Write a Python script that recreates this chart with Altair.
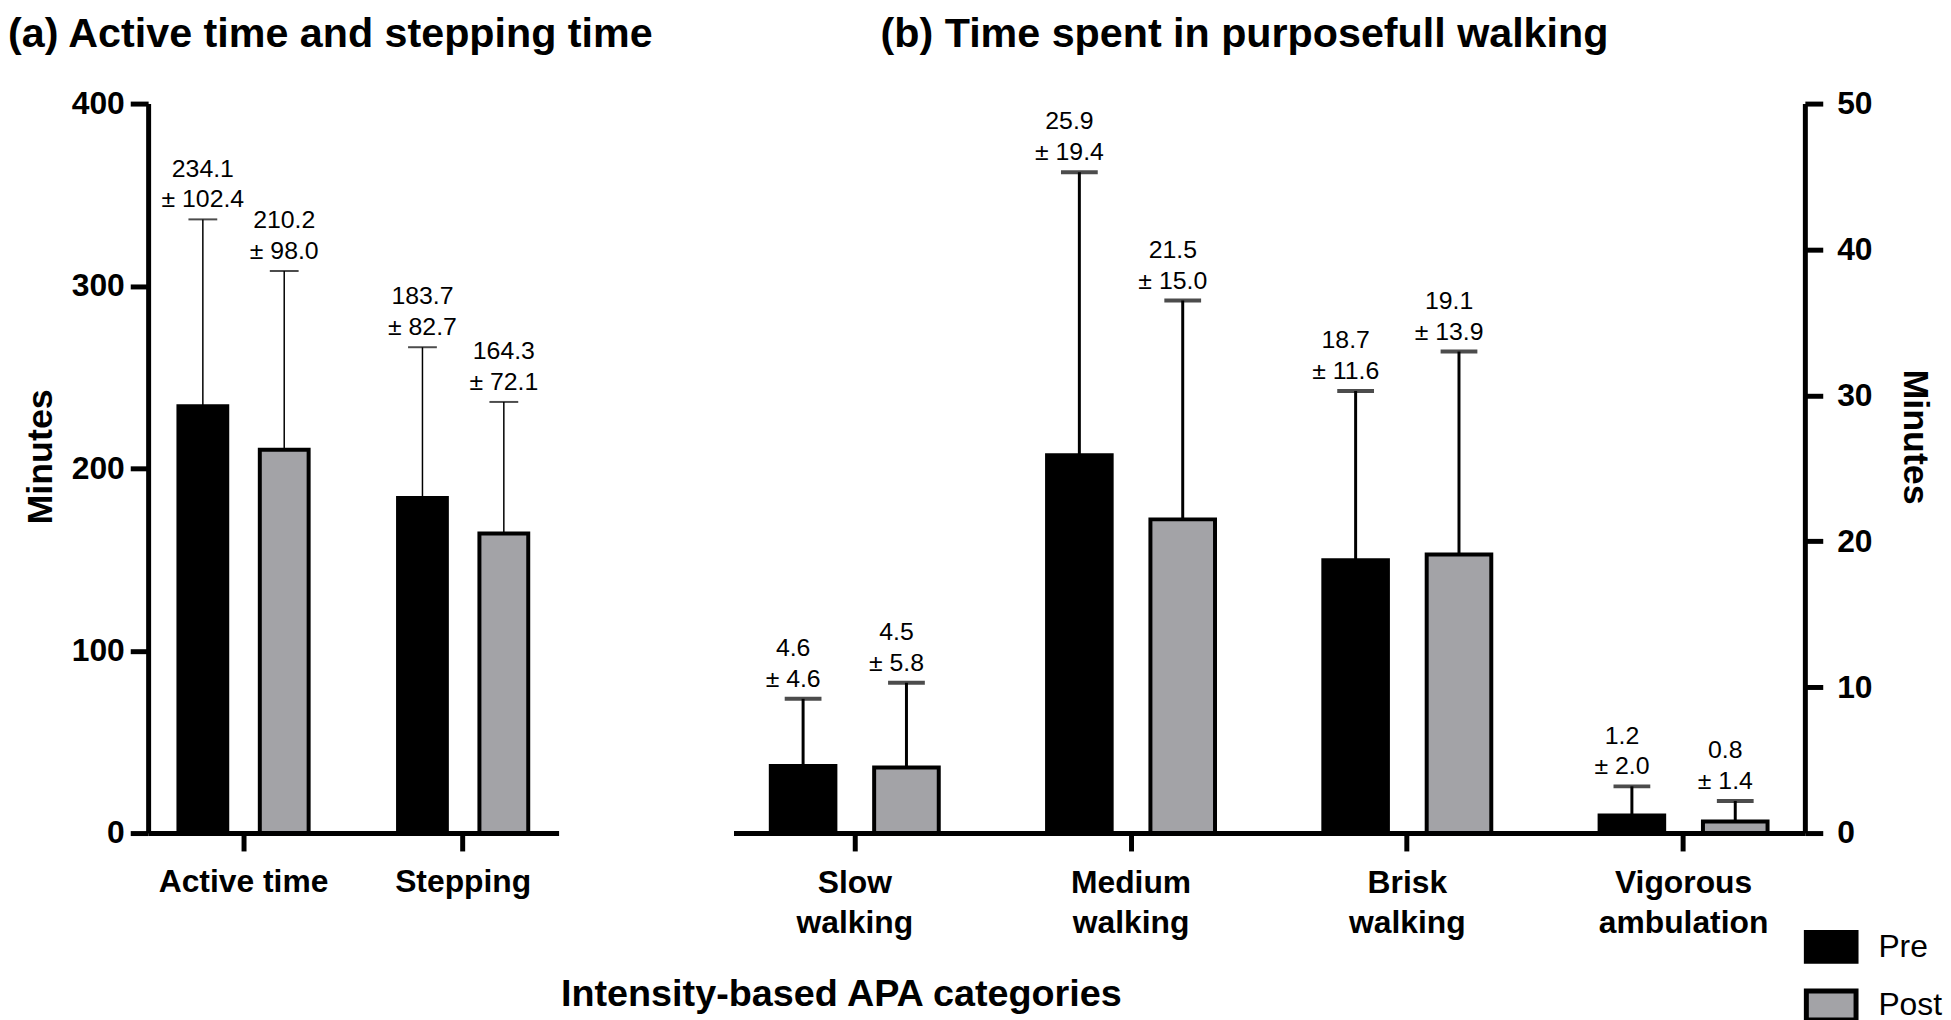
import altair as alt
import pandas as pd

# ---------------- data ----------------
cats_a = ["Active time", "Stepping"]
pre_a = [234.1, 183.7]
pre_sd_a = [102.4, 82.7]
post_a = [210.2, 164.3]
post_sd_a = [98.0, 72.1]

cats_b = ["Slow walking", "Medium walking", "Brisk walking", "Vigorous ambulation"]
pre_b = [4.6, 25.9, 18.7, 1.2]
pre_sd_b = [4.6, 19.4, 11.6, 2.0]
post_b = [4.5, 21.5, 19.1, 0.8]
post_sd_b = [5.8, 15.0, 13.9, 1.4]

groups = ["Pre", "Post"]
colors = ["#000000", "#a3a3a7"]

ticks_a = [0, 100, 200, 300, 400]
ticks_b = [0, 10, 20, 30, 40, 50]

FONT = "Liberation Sans"


def frame(cats, pre, pre_sd, post, post_sd):
    rows = []
    for c, m, s in zip(cats, pre, pre_sd):
        rows.append({"cat": c, "group": "Pre", "mean": m, "sd": s})
    for c, m, s in zip(cats, post, post_sd):
        rows.append({"cat": c, "group": "Post", "mean": m, "sd": s})
    df = pd.DataFrame(rows)
    df["top"] = df["mean"] + df["sd"]
    df["label"] = [f"{m:.1f}\n\u00b1 {s:.1f}" for m, s in zip(df["mean"], df["sd"])]
    return df


df_a = frame(cats_a, pre_a, pre_sd_a, post_a, post_sd_a)
df_b = frame(cats_b, pre_b, pre_sd_b, post_b, post_sd_b)

axis_common = dict(
    grid=False,
    domainColor="black",
    domainWidth=5,
    tickColor="black",
    tickWidth=5,
    tickSize=18,
    labelFont=FONT,
    labelFontSize=32,
    labelFontWeight="bold",
    labelColor="black",
    titleFont=FONT,
    titleColor="black",
    titleFontWeight="bold",
)


def panel(df, cats, ymax, yticks, width, x_pi, x_po, group_w, off_pi, cap, cap_th, rule_w,
          xaxis, yaxis, legend, title, text_dx):
    x = alt.X("cat:N", sort=cats,
              scale=alt.Scale(domain=cats, paddingInner=x_pi, paddingOuter=x_po),
              axis=xaxis)
    xo = alt.XOffset("group:N", sort=groups,
                     scale=alt.Scale(domain=groups, range=[0, group_w],
                                     paddingInner=off_pi, paddingOuter=0))
    yscale = alt.Scale(domain=[0, ymax], nice=False, zero=True)
    bars = alt.Chart(df).mark_bar(stroke="black", strokeWidth=4).encode(
        x=x, xOffset=xo,
        y=alt.Y("mean:Q", scale=yscale, axis=yaxis, stack=None),
        color=alt.Color("group:N", scale=alt.Scale(domain=groups, range=colors),
                        legend=legend),
    )
    rules = alt.Chart(df).mark_rule(color="black", strokeWidth=rule_w).encode(
        x=x, xOffset=xo, y=alt.Y("mean:Q", scale=yscale), y2="top:Q")
    caps = alt.Chart(df).mark_tick(color="black", size=cap, thickness=cap_th).encode(
        x=x, xOffset=xo, y=alt.Y("top:Q", scale=yscale))
    labels = alt.Chart(df).mark_text(
        lineBreak="\n", baseline="bottom", dy=-38, dx=text_dx, fontSize=25,
        font=FONT, lineHeight=31, color="black",
    ).encode(x=x, xOffset=xo, y=alt.Y("top:Q", scale=yscale), text="label:N")
    return alt.layer(bars, rules, caps, labels).properties(
        width=width, height=734, title=title)


title_style = dict(anchor="start", frame="group", fontSize=41.5, font=FONT,
                   fontWeight="bold", color="black", offset=32)

chart_a = panel(
    df_a, cats_a, 400, ticks_a, 413, 0.407, 0.138, 131, 0.40, 29, 2, 1.5,
    xaxis=alt.Axis(orient="bottom", labelAngle=0, labelPadding=16,
                   title="Intensity-based APA categories", titleFontSize=38,
                   titleX=697, titleY=163, titleAlign="center", titleBaseline="middle",
                   **axis_common),
    yaxis=alt.Axis(orient="left", values=ticks_a, labelPadding=6,
                   title="Minutes", titleFontSize=36, titleAngle=270,
                   titleX=-108, titleY=355, titleAlign="center", titleBaseline="middle",
                   **axis_common),
    legend=None,
    title=alt.TitleParams("(a) Active time and stepping time", dx=-141, **title_style),
    text_dx=0,
)

chart_b = panel(
    df_b, cats_b, 50, ticks_b, 1078, 0.392, 0.135, 169, 0.375, 37, 4, 3,
    xaxis=alt.Axis(orient="bottom", labelAngle=0, labelPadding=17,
                   labelExpr="split(datum.label, ' ')", labelLineHeight=40,
                   title=None, **axis_common),
    yaxis=alt.Axis(orient="right", values=ticks_b, labelPadding=14,
                   title="Minutes", titleFontSize=36, titleAngle=90,
                   titleX=110, titleY=335, titleAlign="center", titleBaseline="middle",
                   **axis_common),
    legend=alt.Legend(orient="none", legendX=1077, legendY=821, title=None,
                      symbolType="M-1,-0.58H1V0.58H-1Z", symbolSize=2500,
                      symbolStrokeColor="black", symbolStrokeWidth=5, symbolOpacity=1,
                      labelFont=FONT, labelFontSize=32, labelColor="black",
                      labelOffset=20, rowPadding=7, padding=0),
    title=alt.TitleParams("(b) Time spent in purposefull walking", dx=148, **title_style),
    text_dx=-10,
)

chart = alt.hconcat(chart_a, chart_b, spacing=176, bounds="flush").resolve_scale(
    xOffset="independent"
).resolve_legend(
    color="independent"
).properties(
    padding={"left": 0, "top": 3, "right": 0, "bottom": 0}
).configure_view(stroke=None)

chart.save("out.html", embed_options={"renderer": "svg", "actions": False})
